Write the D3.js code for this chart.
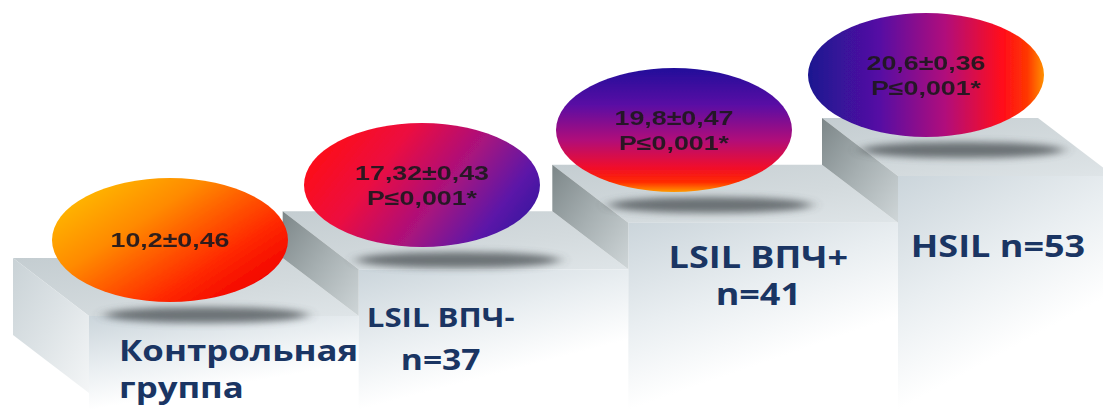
<!DOCTYPE html>
<html>
<head>
<meta charset="utf-8">
<script src="https://cdn.jsdelivr.net/npm/d3@7"></script>
<style>
  html, body { margin: 0; padding: 0; background: #ffffff; overflow: hidden; }
  svg { display: block; }
</style>
</head>
<body>
<svg id="chart" width="1103" height="410"></svg>
<script>
// ---- Data -------------------------------------------------------------
const groups = ["Контрольная группа", "LSIL ВПЧ-", "LSIL ВПЧ+", "HSIL"];
const labelLines = [
  ["Контрольная", "группа"],
  ["LSIL ВПЧ-", "n=37"],
  ["LSIL ВПЧ+", "n=41"],
  ["HSIL n=53"]
];
const means = [10.2, 17.32, 19.8, 20.6];
const errors = [0.46, 0.43, 0.47, 0.36];
const pThresholds = [null, 0.001, 0.001, 0.001];

// ---- Layout & style ---------------------------------------------------
const W = 1103, H = 410;
const DEPTH = { x: 76, y: 58 };      // oblique offset from back edge to front edge
const LAST_STEP_W = 216;             // width of the top step's upper face
const FIRST_SIDE_H = 77;             // visible height of the first step's left face
const RX = 118, RY = 62;             // ellipse radii
const TEXT_STRETCH = 1.34;           // horizontal stretch of ellipse captions
const LABEL_STRETCH = 1.2;           // horizontal stretch of step captions

// ellipse fills: direction of the gradient and colour stops
const ellipsePaints = [
  { dir: [0, 0.1, 1, 0.9], stops: [[0, "#ffc400"], [0.35, "#ff8a00"], [0.7, "#ff2a00"], [0.92, "#f20000"], [1, "#c40000"]] },
  { dir: [0, 0.3, 1, 0.7], stops: [[0, "#ff0a14"], [0.3, "#ec0a40"], [0.6, "#a8127e"], [0.85, "#5c12a8"], [1, "#3a18a0"]] },
  { dir: [0, 0, 0, 1],     stops: [[0, "#22109a"], [0.3, "#5a10a4"], [0.58, "#b0107a"], [0.8, "#f00c2c"], [0.92, "#ff2a00"], [1, "#ff9a00"]] },
  { dir: [0, 0, 1, 0],     stops: [[0, "#1c1490"], [0.3, "#5510a4"], [0.58, "#b00f7c"], [0.82, "#ff0a1c"], [0.93, "#ff3800"], [1, "#ff9000"]] }
];

// captions under each step, relative to the step's front-left corner
const labelLayout = [
  { dx: 30, dy: 45, anchor: "start",  sizes: [29, 29], lh: 37 },
  { dx: 82, dy: 58, anchor: "middle", sizes: [26, 28], lh: 43 },
  { dx: 130, dy: 45, anchor: "middle", sizes: [30, 30], lh: 37 },
  { dx: 100, dy: 81, anchor: "middle", sizes: [30], lh: 36 }
];

const locale = d3.formatLocale({ decimal: ",", thousands: " ", grouping: [3], currency: ["", ""] });
const fmt = locale.format("~f");

// ---- Scales -----------------------------------------------------------
const stepX = d3.scalePoint().domain(groups).range([13, 822]);
const stepY = d3.scalePoint().domain(groups).range([258, 118]);
const ellX = d3.scalePoint().domain(groups).range([170, 926]);
const ellY = d3.scalePoint().domain(groups).range([240, 75]);

const svg = d3.select("#chart");
const defs = svg.append("defs");

function linGrad(id, dir, stops) {
  const g = defs.append("linearGradient").attr("id", id)
    .attr("x1", dir[0]).attr("y1", dir[1]).attr("x2", dir[2]).attr("y2", dir[3]);
  stops.forEach(([o, c]) => g.append("stop").attr("offset", o).attr("stop-color", c));
}

linGrad("topFace", [0, 0, 1, 1], [[0, "#c4cdd1"], [0.6, "#d3dadd"], [1, "#dfe5e8"]]);
linGrad("frontFace", [0, 0, 0.5, 1], [[0, "#cbd5db"], [0.45, "#e9eef1"], [0.8, "#ffffff"], [1, "#ffffff"]]);
linGrad("wallFace", [0, 0, 1, 1], [[0, "#7c8688"], [0.5, "#a7b0b2"], [1, "#cfd6d8"]]);
linGrad("sideFace", [0, 0, 1, 1], [[0, "#c9d2d6"], [0.5, "#dde3e6"], [1, "#f4f6f7"]]);
ellipsePaints.forEach((p, i) => linGrad("ell" + i, p.dir, p.stops));

const blurShadow = defs.append("filter").attr("id", "shadowBlur")
  .attr("x", "-30%").attr("y", "-200%").attr("width", "160%").attr("height", "500%");
blurShadow.append("feGaussianBlur").attr("stdDeviation", "7 3.5");

const softText = defs.append("filter").attr("id", "softText");
softText.append("feGaussianBlur").attr("stdDeviation", 0.4);

const softEdge = defs.append("filter").attr("id", "softEdge");
softEdge.append("feGaussianBlur").attr("stdDeviation", 0.7);

const line = d3.line();

// ---- Steps (drawn from the lowest to the highest) ---------------------
const steps = svg.append("g").attr("class", "steps");
groups.forEach((g, i) => {
  const xb = stepX(g), yt = stepY(g);
  const xr = i < groups.length - 1 ? stepX(groups[i + 1]) : xb + LAST_STEP_W;
  const s = steps.append("g");

  // top face
  s.append("path")
    .attr("d", line([[xb, yt], [xr, yt], [xr + DEPTH.x, yt + DEPTH.y], [xb + DEPTH.x, yt + DEPTH.y]]) + "Z")
    .attr("fill", "url(#topFace)");

  // front face
  s.append("rect")
    .attr("x", xb + DEPTH.x).attr("y", yt + DEPTH.y)
    .attr("width", xr - xb).attr("height", H - (yt + DEPTH.y))
    .attr("fill", "url(#frontFace)");

  // left face / riser
  const rise = i === 0 ? FIRST_SIDE_H : stepY(groups[i - 1]) - yt;
  s.append("path")
    .attr("d", line([[xb, yt], [xb + DEPTH.x, yt + DEPTH.y], [xb + DEPTH.x, yt + DEPTH.y + rise], [xb, yt + rise]]) + "Z")
    .attr("fill", i === 0 ? "url(#sideFace)" : "url(#wallFace)");
});

// ---- Shadows cast by the ellipses ------------------------------------
svg.append("g").selectAll("ellipse")
  .data(groups)
  .join("ellipse")
  .attr("cx", d => ellX(d) + 36)
  .attr("cy", d => ellY(d) + 75)
  .attr("rx", RX - 16)
  .attr("ry", 8)
  .attr("fill", "#4a4f52")
  .attr("opacity", 0.75)
  .attr("filter", "url(#shadowBlur)");

// ---- Ellipses with values --------------------------------------------
const ell = svg.append("g").selectAll("g")
  .data(groups)
  .join("g")
  .attr("transform", d => `translate(${ellX(d)},${ellY(d)})`);

ell.append("ellipse")
  .attr("rx", RX).attr("ry", RY)
  .attr("fill", (d, i) => `url(#ell${i})`)
  .attr("filter", "url(#softEdge)");

ell.each(function (d, i) {
  const lines = [fmt(means[i]) + "±" + fmt(errors[i])];
  if (pThresholds[i] !== null) lines.push("P≤" + fmt(pThresholds[i]) + "*");
  const y0 = lines.length === 1 ? 7 : -5;
  d3.select(this).selectAll("text")
    .data(lines)
    .join("text")
    .attr("transform", (t, k) => `translate(0,${y0 + k * 25}) scale(${TEXT_STRETCH},1)`)
    .attr("text-anchor", "middle")
    .attr("font-family", "'Liberation Sans', Arial, sans-serif")
    .attr("font-weight", "bold")
    .attr("font-size", 20)
    .attr("fill", "#1e1a1e")
    .attr("fill-opacity", 0.92)
    .attr("filter", "url(#softText)")
    .text(t => t);
});

// ---- Step captions (one text block per step) --------------------------
const labels = svg.append("g");
groups.forEach((g, i) => {
  const L = labelLayout[i];
  const x0 = stepX(g) + DEPTH.x + L.dx;
  const y0 = stepY(g) + DEPTH.y + L.dy;
  labels.append("text")
    .attr("transform", `translate(${x0},${y0}) scale(${LABEL_STRETCH},1)`)
    .attr("text-anchor", L.anchor)
    .attr("font-family", "'Open Sans', sans-serif")
    .attr("font-weight", "bold")
    .attr("fill", "#1a3563")
    .selectAll("tspan")
    .data(labelLines[i])
    .join("tspan")
    .attr("x", 0)
    .attr("dy", (t, k) => (k === 0 ? 0 : L.lh))
    .attr("font-size", (t, k) => L.sizes[k])
    .text(t => t);
});
</script>
</body>
</html>
